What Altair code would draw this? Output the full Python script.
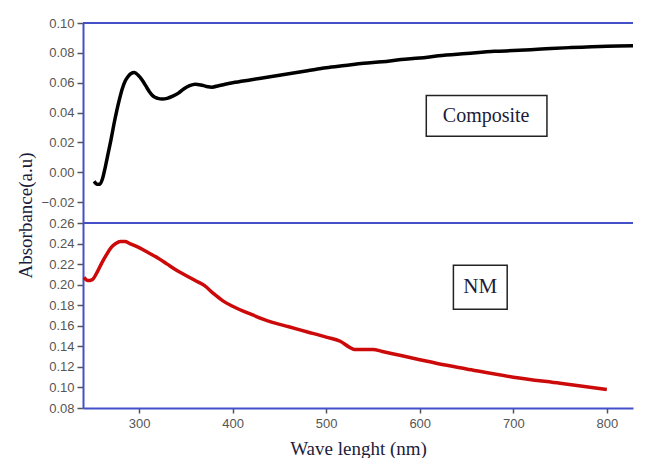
import altair as alt
import pandas as pd

# Composite spectrum (wavelength nm, absorbance)
comp_wl = [252, 255, 258, 261, 264, 267, 270, 273, 276, 279, 282, 285, 288, 291, 295, 299, 303,
           307, 311, 315, 320, 325, 330, 336, 342, 348, 354, 360, 366, 372, 378, 385, 392, 400,
           420, 440, 460, 480, 500, 520, 540, 560, 580, 600, 620, 650, 680, 700, 730, 760, 800, 840]
comp_ab = [-0.006, -0.008, -0.008, -0.004, 0.004, 0.013, 0.022, 0.032, 0.041, 0.049, 0.056, 0.061,
           0.064, 0.066, 0.0668, 0.065, 0.062, 0.058, 0.054, 0.051, 0.0495, 0.049, 0.0495, 0.051,
           0.053, 0.056, 0.058, 0.059, 0.0585, 0.0575, 0.057, 0.058, 0.059, 0.060, 0.062, 0.064,
           0.066, 0.068, 0.070, 0.0715, 0.073, 0.074, 0.0755, 0.0765, 0.078, 0.0795, 0.081,
           0.0815, 0.0825, 0.0835, 0.0845, 0.0848]

# NM spectrum
nm_wl = [241, 245, 250, 255, 260, 265, 270, 275, 280, 285, 290, 300, 310, 320, 330, 340, 350,
         360, 370, 380, 390, 400, 420, 440, 460, 480, 500, 515, 525, 530, 540, 550, 560, 580,
         600, 620, 650, 700, 750, 800]
nm_ab = [0.207, 0.204, 0.205, 0.212, 0.221, 0.229, 0.236, 0.240, 0.242, 0.242, 0.240, 0.236,
         0.231, 0.226, 0.220, 0.214, 0.209, 0.204, 0.199, 0.191, 0.184, 0.179, 0.171, 0.164,
         0.159, 0.154, 0.149, 0.145, 0.139, 0.137, 0.137, 0.137, 0.135, 0.131, 0.127, 0.123,
         0.118, 0.110, 0.104, 0.098]

x_ticks = [300, 400, 500, 600, 700, 800]
top_ticks = [-0.02, 0.00, 0.02, 0.04, 0.06, 0.08, 0.10]
bot_ticks = [0.08, 0.10, 0.12, 0.14, 0.16, 0.18, 0.20, 0.22, 0.24, 0.26]

comp_df = pd.DataFrame({"wl": comp_wl, "ab": comp_ab})
nm_df = pd.DataFrame({"wl": nm_wl, "ab": nm_ab})
one = pd.DataFrame({"a": [0]})

W = 550
X_MAX = 828
BLUE = "#4350c8"
GRAY = "#555555"
TITLE_C = "#1c1c3a"

xscale = alt.Scale(domain=[240, X_MAX], nice=False, zero=False)
top_yscale = alt.Scale(domain=[-0.034, 0.10], nice=False, zero=False)
bot_yscale = alt.Scale(domain=[0.08, 0.26], nice=False, zero=False)

top_y_axis = alt.Axis(values=top_ticks, format=".2f", labelOverlap=False,
                      title="Absorbance(a.u)", titleFont="Liberation Serif", titleFontSize=19,
                      titleFontWeight="normal", titleColor=TITLE_C, titleX=-58, titleY=192,
                      titleAngle=-90, titleAlign="center", titleBaseline="middle")
bot_y_axis = alt.Axis(values=bot_ticks, format=".2f", labelOverlap=False, title=None)
bot_x_axis = alt.Axis(values=x_ticks, tickSize=5, labelPadding=4, labelOverlap=False,
                      title="Wave lenght (nm)", titleFont="Liberation Serif",
                      titleFontSize=19, titleFontWeight="normal", titleColor=TITLE_C,
                      titlePadding=9)

# ---- top panel (Composite)
top_line = alt.Chart(comp_df).mark_line(color="black", strokeWidth=3.5, interpolate="monotone",
                                        clip=True).encode(
    x=alt.X("wl:Q", scale=xscale, axis=None),
    y=alt.Y("ab:Q", scale=top_yscale, axis=top_y_axis),
)
top_rule = alt.Chart(one).mark_rule(color=BLUE, strokeWidth=2).encode(
    x=alt.value(0), x2=alt.value(W), y=alt.value(0))
comp_box = alt.Chart(one).mark_rect(fill="white", stroke="#222222", strokeWidth=1.5).encode(
    x=alt.XDatum(607, axis=None), x2=alt.X2Datum(736),
    y=alt.YDatum(0.0515, axis=top_y_axis), y2=alt.Y2Datum(0.0242))
comp_text = alt.Chart(one).mark_text(font="Liberation Serif", fontSize=20, color=TITLE_C).encode(
    x=alt.XDatum(671, axis=None), y=alt.YDatum(0.0378, axis=top_y_axis),
    text=alt.value("Composite"))

top = alt.layer(top_line, top_rule, comp_box, comp_text).properties(width=W, height=200)

# ---- bottom panel (NM)
bot_line = alt.Chart(nm_df).mark_line(color="#cc0a0a", strokeWidth=3.5, interpolate="monotone").encode(
    x=alt.X("wl:Q", scale=xscale, axis=bot_x_axis),
    y=alt.Y("ab:Q", scale=bot_yscale, axis=bot_y_axis),
)
bot_rule = alt.Chart(one).mark_rule(color=BLUE, strokeWidth=2).encode(
    x=alt.value(0), x2=alt.value(W), y=alt.value(0))
nm_box = alt.Chart(one).mark_rect(fill="white", stroke="#222222", strokeWidth=1.5).encode(
    x=alt.XDatum(636, axis=bot_x_axis), x2=alt.X2Datum(693.5),
    y=alt.YDatum(0.219, axis=bot_y_axis), y2=alt.Y2Datum(0.176))
nm_text = alt.Chart(one).mark_text(font="Liberation Serif", fontSize=21, color=TITLE_C).encode(
    x=alt.XDatum(664.7, axis=bot_x_axis), y=alt.YDatum(0.1975, axis=bot_y_axis),
    text=alt.value("NM"))

bottom = alt.layer(bot_line, bot_rule, nm_box, nm_text).properties(width=W, height=185)

chart = alt.vconcat(top, bottom, spacing=0, bounds="flush").properties(
    padding={"left": 8, "top": 9, "right": 0, "bottom": 0}, background="white"
).configure_view(stroke=None).configure_axis(
    grid=False, domainColor=BLUE, domainWidth=2, tickColor=GRAY, tickSize=6, tickWidth=1.5,
    labelColor=GRAY, labelFont="Liberation Sans", labelFontSize=13, labelPadding=3,
    labelOverlap=False
)

chart.save("out.html", embed_options={"renderer": "svg", "actions": False})
